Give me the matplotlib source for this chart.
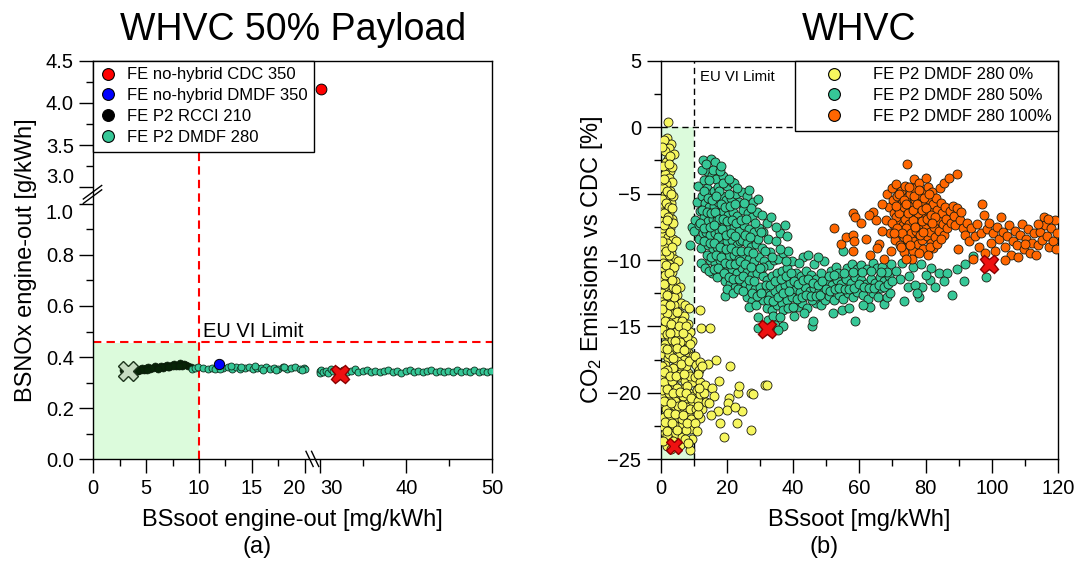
import numpy as np
import matplotlib.pyplot as plt
from matplotlib.lines import Line2D

plt.rcParams['font.family'] = ['Liberation Sans', 'DejaVu Sans']
plt.rcParams['mathtext.fontset'] = 'custom'
plt.rcParams['mathtext.rm'] = 'Liberation Sans'
plt.rcParams['mathtext.it'] = 'Liberation Sans:italic'

# ---------------- panel (a) data ----------------
cdc350 = [(30.1, 4.17)]
dmdf350 = [(11.9, 0.372)]
rcci210 = [(2.8, 0.349), (3.0, 0.343), (3.2, 0.352), (3.4, 0.346), (3.6, 0.341), (3.8, 0.351),
           (4.0, 0.355), (4.2, 0.347), (4.4, 0.353), (4.6, 0.358), (4.8, 0.350), (5.0, 0.356),
           (5.2, 0.361), (5.4, 0.353), (5.6, 0.359), (5.8, 0.364), (6.0, 0.357), (6.2, 0.362),
           (6.4, 0.367), (6.6, 0.359), (6.8, 0.365), (7.0, 0.370), (7.2, 0.362), (7.4, 0.368),
           (7.6, 0.373), (7.8, 0.365), (8.0, 0.371), (8.2, 0.375), (8.4, 0.367), (8.6, 0.372),
           (8.8, 0.368), (9.0, 0.365), (9.2, 0.362), (3.5, 0.350), (4.5, 0.349), (5.5, 0.358),
           (6.5, 0.362), (7.5, 0.366), (8.5, 0.370), (3.1, 0.355), (4.1, 0.345), (5.1, 0.350),
           (6.1, 0.355), (7.1, 0.360), (8.1, 0.364)]
dmdf280 = [(9.3, 0.352), (9.6, 0.358), (9.9, 0.362), (10.4, 0.357), (10.8, 0.353), (11.2, 0.359),
           (11.5, 0.354), (12.3, 0.358), (12.7, 0.362), (13.1, 0.355), (13.5, 0.360), (13.9, 0.352),
           (14.3, 0.357), (14.7, 0.361), (15.1, 0.354), (15.5, 0.359), (15.9, 0.356), (16.3, 0.362),
           (16.7, 0.353), (17.1, 0.358), (17.5, 0.355), (17.9, 0.360), (18.3, 0.352), (18.7, 0.357),
           (19.1, 0.361), (19.5, 0.354), (19.9, 0.358), (20.2, 0.355), (12.0, 0.352), (14.0, 0.363),
           (16.0, 0.350), (18.0, 0.363), (19.7, 0.350), (13.0, 0.365), (15.3, 0.364), (17.3, 0.351),
           (29.7, 0.345), (29.9, 0.337), (30.1, 0.350), (30.3, 0.341), (30.6, 0.347), (30.9, 0.338),
           (31.2, 0.352), (31.5, 0.344), (31.8, 0.349), (32.1, 0.341), (32.6, 0.350), (33.1, 0.343),
           (33.6, 0.347), (34.0, 0.352), (34.4, 0.341), (34.9, 0.346), (35.4, 0.350), (35.9, 0.342),
           (36.4, 0.347), (36.9, 0.340), (37.4, 0.345), (37.9, 0.350), (38.4, 0.342), (38.9, 0.346),
           (39.4, 0.339), (39.9, 0.344), (40.4, 0.349), (40.9, 0.341), (41.4, 0.345), (41.9, 0.340),
           (42.4, 0.346), (42.9, 0.350), (43.4, 0.342), (43.9, 0.345), (44.4, 0.340), (44.9, 0.347),
           (45.4, 0.343), (45.9, 0.349), (46.4, 0.341), (46.9, 0.346), (47.4, 0.343), (47.9, 0.349),
           (48.4, 0.341), (48.9, 0.345), (49.4, 0.342), (49.8, 0.346)]
a_gray_x = (3.25, 0.347)
a_red_x = (32.3, 0.334)
a_xticks = [0, 5, 10, 15, 20, 30, 40, 50]
a_yticks = [0.0, 0.2, 0.4, 0.6, 0.8, 1.0, 3.0, 3.5, 4.0, 4.5]

# ---------------- panel (b) data ----------------
yellow = [(2.2, 0.4), (2.0, -0.8), (1.8, -1.2), (3.3, -1.3), (2.5, -1.6), (1.4, -1.8), (4.0, -2.0),
          (2.4, -2.4), (1.6, -2.6), (2.1, -3.0), (2.8, -3.3), (1.3, -3.5), (2.5, -3.8), (3.5, -4.1),
          (1.8, -4.3), (0.9, -4.6), (2.9, -4.8), (1.5, -5.1), (2.3, -5.4), (3.1, -5.7), (1.1, -5.9),
          (2.0, -6.2), (2.7, -6.5), (1.4, -6.8), (0.8, -7.1), (2.2, -7.3), (3.0, -7.6), (1.6, -7.9),
          (0.7, -8.2), (2.4, -8.3), (3.8, -8.4), (4.6, -8.6), (1.3, -8.8), (2.9, -9.1), (0.9, -9.4),
          (3.3, -9.5), (4.2, -9.9), (1.9, -10.0), (2.6, -10.3), (5.2, -10.1), (1.0, -10.6),
          (3.6, -10.9), (2.1, -11.2), (0.7, -11.5), (4.4, -11.6), (2.8, -11.9), (1.5, -12.2),
          (3.2, -12.4), (5.0, -12.6), (0.9, -12.8), (2.3, -13.0), (6.2, -13.2), (4.1, -13.4),
          (7.5, -13.4), (1.6, -13.6), (8.5, -13.6), (3.0, -13.9), (5.6, -14.0), (7.0, -14.2),
          (0.8, -14.3), (2.4, -14.5), (4.6, -14.6), (8.2, -14.8), (1.7, -15.0), (6.3, -15.1),
          (3.5, -15.3), (9.0, -15.4), (0.9, -15.6), (5.2, -15.7), (2.6, -15.9), (7.4, -16.0),
          (9.6, -16.1), (1.5, -16.3), (4.0, -16.4), (6.3, -16.6), (3.1, -16.8), (8.4, -16.9),
          (0.8, -17.1), (5.5, -17.2), (2.2, -17.4), (7.1, -17.5), (9.3, -17.6), (1.4, -17.9),
          (4.4, -18.0), (6.5, -18.2), (3.2, -18.4), (8.2, -18.5), (0.9, -18.7), (5.6, -18.8),
          (2.3, -19.0), (7.4, -19.1), (9.6, -19.2), (1.6, -19.4), (4.3, -19.5), (6.2, -19.7),
          (3.0, -19.9), (8.6, -20.0), (0.8, -20.2), (5.1, -20.3), (2.2, -20.5), (7.0, -20.6),
          (9.4, -20.8), (1.5, -20.9), (3.8, -21.1), (6.1, -21.3), (2.8, -21.5), (8.3, -21.6),
          (1.0, -21.8), (4.8, -21.9), (7.2, -22.1), (2.0, -22.3), (5.8, -22.5), (3.3, -22.7),
          (8.8, -22.7), (1.4, -23.0), (4.4, -23.1), (6.6, -23.3), (2.6, -23.5), (9.6, -23.5),
          (8.3, -23.8), (5.0, -23.9), (1.9, -23.2),
          (1.2, -1.0), (3.0, -2.2), (0.9, -2.9), (3.6, -3.0), (0.6, -4.0), (3.9, -5.2), (0.6, -6.4),
          (3.5, -6.9), (0.5, -7.6), (3.9, -7.2), (1.9, -8.7), (0.5, -9.9), (3.1, -10.6), (1.4, -11.1),
          (3.9, -12.0), (0.5, -12.5), (5.9, -12.0), (2.7, -12.7), (1.2, -13.3), (3.6, -14.1),
          (6.4, -14.6), (0.5, -15.2), (2.1, -15.6), (4.6, -15.4), (8.0, -15.8), (3.5, -16.0),
          (5.9, -16.2), (1.1, -16.6), (7.6, -16.7), (2.7, -17.1), (4.9, -17.6), (9.8, -17.2),
          (0.6, -18.0), (3.8, -18.1), (7.7, -18.0), (2.0, -18.3), (6.0, -18.6), (9.0, -18.7),
          (1.2, -19.2), (3.6, -19.1), (5.1, -19.6), (8.0, -19.5), (0.5, -19.8), (2.5, -20.0),
          (4.4, -20.6), (6.8, -20.2), (9.8, -20.2), (1.8, -21.2), (5.4, -21.0), (7.8, -21.1),
          (3.0, -22.0), (9.2, -22.0), (0.7, -22.5), (6.6, -22.0), (4.0, -22.4), (7.7, -22.8),
          (2.1, -24.0), (3.8, -23.6), (6.0, -23.9), (9.0, -24.3), (4.2, -12.8), (2.0, -14.0),
          (1.0, -9.0), (2.5, -9.6),
          (0.5, -1.5), (2.7, -2.8), (1.0, -3.9), (2.0, -4.8), (3.2, -5.0), (0.6, -5.4), (1.7, -5.7),
          (2.6, -6.0), (1.2, -6.5), (2.4, -6.8), (3.4, -6.1), (1.1, -7.4), (1.9, -7.0), (2.8, -7.9),
          (0.6, -8.6), (1.8, -9.3), (3.6, -9.0), (0.7, -10.2), (1.6, -10.4), (4.0, -10.5), (2.5, -11.0),
          (1.0, -11.8), (3.4, -11.5), (1.9, -12.6), (4.6, -12.2), (0.6, -13.7), (2.8, -13.4),
          (5.0, -13.9), (1.3, -14.6), (3.1, -14.8), (5.7, -15.0), (7.8, -15.0), (2.9, -15.5),
          (4.3, -16.1), (6.8, -15.5), (8.8, -16.3), (1.9, -16.7), (5.1, -16.6), (7.0, -16.8),
          (3.7, -17.4), (6.2, -17.8), (8.7, -17.6), (1.0, -18.4), (2.8, -18.7), (4.8, -18.7),
          (7.0, -18.6), (1.9, -19.7), (3.9, -20.0), (5.8, -19.9), (7.8, -20.0), (9.1, -20.4),
          (1.2, -20.6), (3.1, -20.8), (6.5, -20.9), (8.9, -21.2), (2.3, -21.5), (4.3, -21.6),
          (6.7, -21.7), (1.3, -22.2), (3.6, -22.3), (5.1, -22.8), (8.1, -22.3), (2.0, -22.9),
          (7.4, -23.5), (0.9, -23.6), (3.1, -24.2),
          (10.3, -17.2), (10.8, -17.9), (11.5, -18.3), (10.5, -18.8), (11.9, -19.2), (10.9, -19.8),
          (12.4, -20.4), (11.2, -20.6), (10.6, -21.2), (11.8, -21.9), (10.4, -22.3), (10.9, -22.9),
          (12.6, -21.2), (13.3, -19.4),
          (12.0, -13.8), (12.3, -15.1), (14.8, -15.1), (16.9, -17.5), (21.0, -18.0), (14.3, -17.8),
          (17.8, -19.1), (15.5, -19.6), (16.2, -20.2), (20.7, -20.4), (23.3, -20.0), (23.8, -19.5),
          (27.4, -20.0), (27.8, -20.1), (31.5, -19.4), (32.1, -19.4), (20.4, -20.8), (20.2, -21.3),
          (17.4, -21.4), (24.5, -21.4), (22.6, -21.1), (15.3, -21.7), (17.9, -22.3), (23.2, -22.3),
          (27.3, -22.8), (19.1, -23.3), (8.4, -23.8), (11.3, -21.6), (12.0, -20.1), (13.0, -20.0),
          (13.7, -20.7), (14.5, -20.8), (11.4, -18.6), (12.0, -17.7), (12.6, -18.0), (11.7, -19.6),
          (11.3, -21.0)]

green = [(9.6, -7.5), (9.0, -8.9), (10.5, -7.0), (11.3, -4.4), (11.0, -5.6), (11.8, -6.3), (10.2, -7.8),
         (11.6, -7.4), (12.1, -10.2), (11.5, -8.4), (12.4, -5.2), (12.8, -8.0), (12.2, -9.1),
         (12.8, -2.5), (15.2, -2.4), (16.4, -2.6), (14.0, -3.3), (13.2, -4.0), (15.5, -3.6), (16.9, -3.9),
         (13.4, -10.6), (14.1, -4.6), (15.0, -5.0), (16.2, -4.8), (17.4, -4.5), (13.5, -5.7), (14.7, -6.0),
         (16.0, -5.9), (17.3, -5.6), (13.2, -6.8), (14.4, -7.1), (15.8, -6.9), (17.0, -7.0), (18.0, -6.5),
         (13.6, -7.9), (15.0, -8.1), (16.5, -8.0), (17.8, -7.8), (14.2, -8.9), (15.7, -9.2), (17.2, -9.0),
         (14.9, -10.0), (16.4, -10.2), (17.9, -10.0), (15.6, -11.0), (17.1, -11.3), (14.6, -10.8),
         (18.8, -3.7), (20.1, -4.4), (21.5, -4.1), (22.1, -4.2), (18.6, -5.2), (19.9, -5.5), (21.2, -5.3),
         (22.8, -5.0), (23.6, -5.6), (18.9, -6.3), (20.4, -6.6), (21.8, -6.4), (23.2, -6.7), (19.3, -7.4),
         (20.8, -7.6), (22.3, -7.5), (23.8, -7.8), (18.7, -8.4), (20.1, -8.6), (21.6, -8.5), (23.0, -8.9),
         (24.0, -8.6), (19.3, -9.5), (20.7, -9.7), (22.2, -9.6), (23.6, -9.9), (18.8, -10.6), (20.2, -10.8),
         (21.7, -10.7), (23.1, -11.0), (19.4, -11.6), (21.0, -11.8), (22.5, -12.0), (19.4, -12.7),
         (24.0, -11.6),
         (24.5, -4.9), (26.0, -5.2), (26.7, -4.7), (27.8, -5.6), (29.4, -5.4), (24.8, -6.2), (26.3, -6.5),
         (27.6, -6.8), (29.0, -6.4), (25.1, -7.4), (26.6, -7.7), (28.1, -7.9), (29.6, -7.6), (24.6, -8.5),
         (26.0, -8.7), (27.4, -9.0), (28.9, -8.8), (25.3, -9.7), (26.8, -9.9), (28.3, -10.1), (29.8, -9.8),
         (24.7, -10.6), (26.1, -10.9), (27.6, -11.1), (29.1, -11.0), (25.4, -11.7), (26.9, -12.0),
         (28.4, -12.2), (29.9, -12.0), (26.0, -12.8), (27.6, -13.1), (26.7, -13.5), (29.4, -14.3),
         (29.3, -15.1), (28.9, -13.4),
         (31.0, -7.9), (32.5, -8.4), (30.6, -9.1), (33.0, -9.4), (34.8, -8.6), (36.2, -8.0), (37.5, -7.4),
         (38.3, -8.2), (31.2, -10.1), (32.7, -10.4), (34.2, -10.0), (35.6, -9.9), (37.0, -9.5), (38.6, -9.3),
         (30.8, -11.2), (32.3, -11.5), (33.8, -11.2), (35.3, -11.0), (36.8, -10.8), (38.2, -10.6),
         (39.6, -10.1), (31.5, -12.4), (33.0, -12.6), (34.5, -12.3), (36.0, -12.1), (37.5, -11.9),
         (39.0, -11.7), (32.0, -13.6), (33.6, -13.8), (35.2, -13.4), (36.7, -13.2), (38.2, -13.0),
         (39.7, -12.8), (33.2, -14.6), (34.7, -14.9), (36.9, -15.0), (37.1, -13.8), (35.4, -15.3),
         (32.6, -14.5), (31.0, -13.0), (30.5, -6.6), (32.0, -7.2), (33.5, -6.8), (35.0, -7.5),
         (40.4, -14.2), (41.5, -13.5), (42.8, -13.2), (44.2, -13.6), (45.8, -15.0), (46.0, -14.6),
         (40.8, -12.2), (42.2, -12.4), (43.6, -12.0), (45.0, -12.3), (46.4, -12.1), (47.8, -12.3),
         (49.2, -12.0), (41.0, -11.0), (42.5, -11.2), (44.0, -10.8), (45.5, -11.1), (47.0, -11.4),
         (48.5, -11.0), (49.4, -10.1), (43.0, -9.8), (44.6, -9.6), (46.2, -10.3), (47.5, -9.8),
         (41.8, -10.2), (43.3, -14.0), (47.0, -13.2), (48.4, -13.4), (49.8, -13.0), (45.6, -13.0),
         (50.5, -11.6), (51.8, -11.9), (53.2, -11.5), (54.6, -11.8), (56.0, -11.4), (57.4, -11.7),
         (58.8, -11.3), (50.9, -12.7), (52.4, -13.0), (53.8, -12.6), (55.2, -12.9), (56.6, -12.5),
         (58.0, -12.8), (59.4, -12.4), (51.5, -10.8), (53.0, -10.5), (55.0, -9.3), (56.4, -10.6),
         (57.9, -10.3), (59.3, -10.7), (52.1, -14.0), (54.9, -13.8), (58.7, -14.6), (53.6, -11.0),
         (57.0, -13.6),
         (60.6, -11.5), (62.0, -11.8), (63.4, -11.4), (64.8, -11.7), (66.2, -11.3), (67.6, -11.6),
         (69.0, -11.2), (61.2, -12.6), (62.7, -12.9), (64.2, -12.5), (65.6, -12.8), (60.4, -10.4),
         (62.4, -10.7), (64.0, -10.2), (65.5, -10.6), (67.0, -10.5), (68.5, -10.9), (63.2, -13.5),
         (67.6, -13.3), (68.4, -12.8), (69.4, -12.5), (69.6, -10.3), (66.5, -12.1), (61.0, -13.4),
         (71.0, -10.8), (73.4, -13.1), (74.7, -12.0), (76.1, -10.5), (78.0, -12.8), (78.8, -12.0),
         (78.5, -10.3), (81.4, -11.5), (81.7, -10.6), (84.0, -11.0), (86.6, -11.0), (88.0, -12.6),
         (89.4, -10.7), (91.5, -11.6), (91.9, -10.3), (94.2, -9.7), (98.4, -11.3), (72.2, -11.4),
         (75.0, -11.2), (76.9, -11.9), (80.2, -11.1), (83.0, -12.0), (85.5, -11.6), (73.0, -10.2),
         (77.4, -12.5),
         (12.5, -3.2), (13.8, -2.8), (14.6, -4.0), (15.9, -3.2), (17.8, -4.8), (19.0, -4.2), (20.6, -5.0),
         (13.0, -4.8), (14.2, -5.3), (15.5, -5.5), (16.8, -5.2), (18.3, -5.8), (19.6, -6.0), (21.0, -5.9),
         (22.5, -5.8), (12.6, -6.2), (13.9, -6.4), (15.2, -6.5), (16.6, -6.4), (17.6, -6.9), (19.0, -6.9),
         (20.0, -7.1), (21.5, -7.0), (22.9, -7.2), (24.3, -7.0), (12.0, -7.2), (13.0, -7.6), (14.8, -7.5),
         (16.2, -7.4), (17.4, -8.3), (18.5, -7.7), (19.8, -8.1), (21.2, -8.0), (22.6, -8.2), (25.6, -8.1),
         (13.2, -8.6), (14.8, -8.7), (16.1, -8.7), (18.1, -9.0), (19.9, -9.2), (21.4, -9.1), (22.8, -9.3),
         (24.3, -9.3), (26.3, -9.3), (14.0, -9.6), (15.2, -9.8), (16.9, -9.6), (18.3, -9.8), (19.6, -10.2),
         (21.0, -10.3), (22.6, -10.3), (24.0, -10.1), (25.6, -10.3), (27.3, -10.5), (16.1, -10.7),
         (17.5, -10.6), (19.2, -11.0), (20.6, -11.3), (22.0, -11.4), (23.6, -11.4), (25.0, -11.2),
         (26.6, -11.5), (28.1, -11.6), (20.2, -12.2), (21.8, -12.5), (23.4, -12.2), (24.8, -12.3),
         (27.5, -12.5), (29.0, -12.7), (30.3, -12.5), (30.8, -10.5), (31.8, -11.9), (33.2, -11.9),
         (34.6, -11.6), (36.3, -11.4), (37.8, -11.2), (39.3, -11.0), (32.6, -13.0), (34.0, -13.1),
         (35.6, -12.8), (37.1, -12.5), (38.7, -12.3), (40.2, -11.6), (41.6, -11.8), (43.0, -11.5),
         (44.4, -11.4), (45.9, -11.7), (47.4, -11.9), (48.8, -11.6), (41.2, -12.9), (42.6, -12.8),
         (44.0, -12.6), (45.4, -12.7), (46.9, -12.7), (48.2, -12.6), (34.0, -14.2), (36.0, -14.3),
         (38.6, -13.6), (40.0, -13.5), (31.5, -9.3), (33.8, -9.8), (36.0, -9.2), (37.8, -10.1),
         (29.5, -8.4), (30.1, -10.6), (28.0, -9.5), (27.0, -8.3), (25.8, -6.9), (28.4, -7.2), (30.2, -7.9),
         (27.2, -6.1), (25.3, -5.7), (23.0, -4.6), (20.8, -3.9), (17.9, -3.3), (18.2, -2.9),
         (50.0, -12.2), (51.2, -12.3), (52.6, -12.2), (54.0, -12.1), (55.6, -12.2), (57.0, -12.2),
         (58.4, -12.1), (59.8, -11.8), (61.4, -12.0), (63.0, -12.1), (64.5, -12.1), (66.0, -11.9),
         (67.4, -12.0), (68.8, -11.8), (70.0, -11.6), (51.0, -11.2), (52.5, -11.1), (55.3, -11.0),
         (58.0, -10.9), (60.8, -10.9), (63.6, -10.8), (66.7, -10.9)]

orange = [(68.0, -7.0), (68.5, -5.0), (69.0, -6.0), (69.3, -8.0), (69.7, -9.3), (70.0, -4.6), (70.2, -5.5),
          (70.5, -6.5), (70.6, -7.4), (70.8, -8.5), (71.2, -4.3), (71.5, -5.2), (71.7, -6.1), (71.9, -7.0),
          (72.1, -7.9), (72.3, -8.9), (72.6, -4.8), (72.8, -5.7), (73.0, -6.6), (73.2, -7.4), (73.4, -8.3),
          (73.6, -9.4), (73.9, -4.4), (74.1, -5.3), (74.3, -6.2), (74.5, -7.1), (74.7, -7.9), (74.9, -8.7),
          (74.5, -2.8), (75.2, -5.0), (75.4, -5.9), (75.6, -6.8), (75.8, -7.6), (76.0, -8.4), (76.2, -9.3),
          (76.4, -3.9), (76.6, -4.6), (76.8, -5.5), (77.0, -6.4), (77.2, -7.2), (77.4, -8.0), (77.6, -8.8),
          (77.9, -4.2), (78.1, -5.1), (78.3, -6.0), (78.5, -6.9), (78.7, -7.7), (78.9, -8.5), (79.2, -9.2),
          (79.4, -4.8), (79.6, -5.7), (79.8, -6.6), (80.0, -3.8), (80.2, -7.4), (80.4, -8.2), (80.7, -4.5),
          (80.9, -5.4), (81.1, -6.3), (81.3, -7.1), (81.5, -7.9), (81.8, -8.7), (82.0, -4.9), (82.2, -5.8),
          (82.4, -6.7), (82.4, -9.1), (82.7, -7.5), (83.0, -8.3), (83.2, -5.3), (83.5, -6.2), (83.8, -7.0),
          (84.1, -7.8), (84.4, -4.6), (84.6, -5.7), (84.9, -6.5), (85.2, -7.3), (85.7, -4.2), (85.5, -8.1),
          (86.0, -6.0), (86.3, -6.9), (86.6, -7.6), (87.1, -3.8), (87.4, -6.3), (87.8, -7.2), (88.2, -5.9),
          (88.6, -6.7), (89.4, -3.5), (89.0, -7.4), (89.5, -6.1), (89.9, -9.2), (90.3, -7.0), (90.7, -6.4),
          (91.2, -7.6), (92.0, -8.1), (92.5, -7.2),
          (71.0, -6.8), (72.5, -6.3), (73.8, -6.9), (75.0, -7.3), (76.3, -7.0), (77.8, -6.5), (79.0, -7.1),
          (80.5, -6.9), (74.0, -7.6), (75.7, -8.0), (77.1, -7.8), (78.4, -8.1), (72.0, -5.0), (73.5, -5.5),
          (75.0, -4.5), (76.5, -5.2), (78.0, -4.7), (79.5, -5.3), (81.0, -5.0), (70.0, -7.2), (71.4, -7.6),
          (73.0, -8.0), (74.4, -8.4), (76.0, -9.9), (74.0, -9.9), (81.5, -9.0), (83.5, -8.8), (84.8, -8.4),
          (72.0, -6.5), (73.4, -6.0), (74.8, -6.5), (76.1, -6.2), (77.5, -5.8), (78.8, -6.2), (80.1, -6.1),
          (81.6, -6.6), (83.0, -6.8), (74.2, -5.8), (76.8, -7.5), (79.3, -7.9), (82.0, -7.2), (71.2, -5.9),
          (70.5, -8.0), (72.7, -9.0), (75.3, -8.9), (78.0, -9.5), (80.8, -9.6),
          (52.5, -7.6), (54.5, -8.8), (56.0, -8.3), (58.0, -6.5), (58.8, -6.8), (60.5, -7.2), (58.1, -8.1),
          (61.9, -8.4), (58.4, -8.6), (58.0, -9.3), (64.0, -6.4), (65.0, -7.0), (66.0, -8.8), (63.3, -9.6),
          (66.8, -5.8), (67.0, -7.8), (62.8, -6.6), (65.5, -9.1), (67.5, -9.9),
          (93.0, -8.6), (93.8, -7.6), (94.4, -9.9), (95.0, -8.2), (95.6, -7.3), (96.2, -9.0), (96.8, -8.0),
          (97.2, -5.8), (97.7, -6.6), (97.9, -9.5), (98.5, -7.7), (99.1, -7.2), (99.8, -8.7), (100.4, -8.0),
          (101.0, -9.3), (101.6, -7.5), (102.2, -8.4), (102.7, -6.8), (103.3, -7.9), (103.9, -9.0),
          (104.5, -8.2), (105.1, -7.4), (105.7, -9.6), (106.3, -8.6), (106.9, -7.8), (107.5, -8.9),
          (108.0, -9.8), (108.6, -8.1), (109.2, -7.3), (109.8, -9.2), (110.4, -8.4), (111.0, -7.7),
          (111.6, -9.5), (112.2, -8.7), (112.8, -8.0), (113.3, -9.6), (113.9, -8.9), (114.5, -7.9),
          (115.1, -8.5), (115.8, -6.8), (116.2, -7.4), (116.8, -8.2), (117.4, -9.0), (118.0, -7.6),
          (118.6, -8.6), (119.2, -7.0), (119.5, -9.2), (119.6, -8.0), (117.0, -6.9), (114.0, -7.3),
          (110.0, -8.8), (104.0, -10.0)]

b_red_x = [(4.05, -24.0), (32.1, -15.2), (99.2, -10.3)]

# colours
c_red, c_blue, c_black = '#ff0000', '#0000ff', '#072407'
c_green, c_yellow, c_orange = '#36c797', '#f6f65e', '#ff6600'
c_shade = '#dcfbdc'

# broken-axis mapping for panel (a)
xb_d = [-100, 0, 20, 30, 50, 500]
xb_u = [-100, 0, 20, 21.48, 37.73, 37.73 + 450 * 0.8123]
yb_d = [-10, 0, 1, 3, 4.5, 20]
yb_v = [-10, 0, 1, 1.0638, 1.56, 1.56 + 15.5 * 0.3308]


def fx(x):
    return np.interp(x, xb_d, xb_u)


def fxi(u):
    return np.interp(u, xb_u, xb_d)


def fy(y):
    return np.interp(y, yb_d, yb_v)


def fyi(v):
    return np.interp(v, yb_v, yb_d)


def style_axis(ax):
    for s in ax.spines.values():
        s.set_linewidth(1.0)
        s.set_color('black')
    ax.tick_params(which='major', direction='out', length=10, width=1, labelsize=14.5, pad=4)
    ax.tick_params(which='minor', direction='out', length=5, width=1)


def pts(lst):
    a = np.array(lst)
    return a[:, 0], a[:, 1]


fig = plt.figure(figsize=(10.8, 5.65), dpi=100)
ax1 = fig.add_axes([93.3 / 1080, 1 - 459.3 / 565, 399 / 1080, 398.6 / 565])
ax2 = fig.add_axes([660.5 / 1080, 1 - 459.3 / 565, 397.5 / 1080, 398.6 / 565])

# ---------------- panel (a) ----------------
ax1.set_xscale('function', functions=(fx, fxi))
ax1.set_yscale('function', functions=(fy, fyi))
ax1.set_xlim(0, 50)
ax1.set_ylim(0, 4.5)
ax1.fill_between([0, 10], 0, 0.455, color=c_shade, lw=0, zorder=0)
ax1.axhline(0.46, color='red', lw=1.5, ls=(0, (4, 2.5)), zorder=1)
ax1.axvline(10, color='red', lw=1.5, ls=(0, (4, 2.5)), zorder=1)
ax1.text(10.35, 0.478, 'EU VI Limit', fontsize=14.5, va='baseline', ha='left')

x, y = pts(rcci210)
ax1.scatter(x, y, s=25, c=c_black, edgecolors='#0a1a0a', linewidths=0.5, zorder=3)
x, y = pts(dmdf280)
ax1.scatter(x, y, s=25, c=c_green, edgecolors='#10301f', linewidths=0.6, zorder=3)
x, y = pts(dmdf350)
ax1.scatter(x, y, s=55, c=c_blue, edgecolors='black', linewidths=0.7, zorder=4)
x, y = pts(cdc350)
ax1.scatter(x, y, s=60, c=c_red, edgecolors='black', linewidths=0.7, zorder=4)
ax1.plot(*a_gray_x, marker='X', ms=14, mfc='#c6dcc2', mec='#1d341d', mew=1, ls='none', zorder=5)
ax1.plot(*a_red_x, marker='X', ms=13, mfc='#ee1111', mec='#8a0000', mew=1, ls='none', zorder=5)

ax1.set_xticks(a_xticks)
ax1.set_xticklabels([str(t) for t in a_xticks])
ax1.set_xticks([2.5, 7.5, 12.5, 17.5, 35, 45], minor=True)
ax1.set_yticks(a_yticks)
ax1.set_yticklabels(['%.1f' % t for t in a_yticks])
ax1.set_yticks([0.1, 0.3, 0.5, 0.7, 0.9, 3.25, 3.75, 4.25], minor=True)
ax1.xaxis.set_minor_formatter(plt.NullFormatter())
ax1.yaxis.set_minor_formatter(plt.NullFormatter())
style_axis(ax1)
for lbl in ax1.get_xticklabels():
    if lbl.get_text() == '20':
        lbl.set_ha('right')
    elif lbl.get_text() == '30':
        lbl.set_ha('left')
for lbl in ax1.get_yticklabels():
    if lbl.get_text() == '3.0':
        lbl.set_va('bottom')
    elif lbl.get_text() == '1.0':
        lbl.set_va('top')

# break marks
kw = dict(transform=ax1.transAxes, color='black', lw=1, clip_on=False, zorder=6)
for dx in (0.0, 0.014):
    ax1.plot([0.533 + dx, 0.551 + dx], [0.02, -0.018], **kw)
for dy in (0.0, 0.011):
    ax1.plot([-0.025, 0.021], [0.642 + dy, 0.676 + dy], **kw)

h1 = [Line2D([], [], marker='o', ls='none', ms=8.5, mfc=c, mec='black', mew=0.8)
      for c in (c_red, c_blue, 'black', c_green)]
leg1 = ax1.legend(h1, ['FE no-hybrid CDC 350', 'FE no-hybrid DMDF 350', 'FE P2 RCCI 210', 'FE P2 DMDF 280'],
                  loc='upper left', bbox_to_anchor=(0, 1), borderaxespad=0, fontsize=12,
                  handlelength=1.0, handletextpad=0.6, borderpad=0.4, labelspacing=0.35,
                  fancybox=False, framealpha=1, edgecolor='black')
leg1.get_frame().set_linewidth(1.0)
leg1.set_zorder(10)

ax1.set_title('WHVC 50% Payload', fontsize=27, pad=15)
ax1.set_xlabel('BSsoot engine-out [mg/kWh]', fontsize=17)
ax1.set_ylabel('BSNOx engine-out [g/kWh]', fontsize=17)
ax1.xaxis.set_label_coords(0.5, -0.125)
ax1.yaxis.set_label_coords(-0.14, 0.5)

# ---------------- panel (b) ----------------
ax2.set_xlim(0, 120)
ax2.set_ylim(-25, 5)
ax2.fill_between([0, 10], -25, 0, color=c_shade, lw=0, zorder=0)
ax2.axvline(10, color='black', lw=1, ls=(0, (4.5, 3)), zorder=1)
ax2.axhline(0, color='black', lw=1, ls=(0, (4.5, 3)), zorder=1)
ax2.text(11.9, 3.75, 'EU VI Limit', fontsize=10.7, va='center', ha='left')

for data, col in ((yellow, c_yellow), (green, c_green), (orange, c_orange)):
    x, y = pts(data)
    ax2.scatter(x, y, s=42, c=col, edgecolors='#1b1b10', linewidths=0.6, zorder=3)
x, y = pts(b_red_x)
ax2.plot(x[:1], y[:1], marker='X', ms=11, mfc='#ee1111', mec='#8a0000', mew=1, ls='none', zorder=5)
ax2.plot(x[1:], y[1:], marker='X', ms=13, mfc='#ee1111', mec='#8a0000', mew=1, ls='none', zorder=5)

ax2.set_xticks(np.arange(0, 121, 20))
ax2.set_xticks(np.arange(10, 120, 20), minor=True)
ax2.set_yticks(np.arange(-25, 6, 5))
ax2.set_yticks(np.arange(-22.5, 5, 5), minor=True)
style_axis(ax2)

h2 = [Line2D([], [], marker='o', ls='none', ms=8.5, mfc=c, mec='black', mew=0.8)
      for c in (c_yellow, c_green, c_orange)]
leg2 = ax2.legend(h2, ['FE P2 DMDF 280 0%', 'FE P2 DMDF 280 50%', 'FE P2 DMDF 280 100%'],
                  loc='upper right', bbox_to_anchor=(1, 1), borderaxespad=0, fontsize=12,
                  handlelength=3.9, handletextpad=0.37, borderpad=0.4, labelspacing=0.35,
                  fancybox=False, framealpha=1, edgecolor='black')
leg2.get_frame().set_linewidth(1.0)
leg2.set_zorder(10)

ax2.set_title('WHVC', fontsize=27, pad=15)
ax2.set_xlabel('BSsoot [mg/kWh]', fontsize=17)
ax2.set_ylabel('CO$_2$ Emissions vs CDC [%]', fontsize=17)
ax2.xaxis.set_label_coords(0.5, -0.125)
ax2.yaxis.set_label_coords(-0.14, 0.5)

fig.text(257 / 1080, 1 - 547 / 565, '(a)', fontsize=17, ha='center', va='center')
fig.text(824 / 1080, 1 - 547 / 565, '(b)', fontsize=17, ha='center', va='center')

fig.savefig('out.png', dpi=100)
